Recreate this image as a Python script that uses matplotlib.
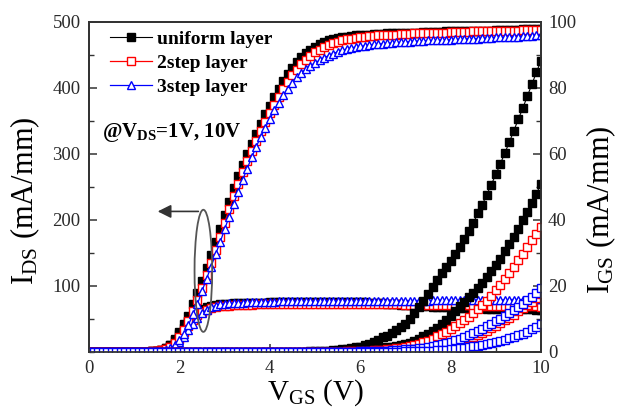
import numpy as np
import matplotlib
matplotlib.use("Agg")
import matplotlib.pyplot as plt
from matplotlib.patches import Ellipse
from matplotlib.lines import Line2D
from matplotlib.ticker import MultipleLocator

plt.rcParams['font.family'] = ['Liberation Serif', 'DejaVu Serif']
plt.rcParams['mathtext.fontset'] = 'custom'
plt.rcParams['mathtext.rm'] = 'Liberation Serif'
plt.rcParams['mathtext.it'] = 'Liberation Serif:italic'
plt.rcParams['mathtext.bf'] = 'Liberation Serif:bold'

# ---------------- data ----------------
vgs = np.round(np.arange(101) * 0.1, 1)  # V_GS grid, 0.1 V steps

series_names = ["uniform layer", "2step layer", "3step layer"]

ids10_uniform = [
    0, 0, 0, 0, 0, 0, 0, 0, 0, 0,
    0, 0, 0, 0.5, 1, 2, 3, 6, 10, 19,
    30, 42, 55, 72, 90, 108, 127, 147, 167, 187,
    207, 228, 248, 266, 283, 300, 315, 331, 346, 360,
    373, 386, 398, 410, 421, 431, 440, 447, 453, 458,
    462, 466, 469, 472, 474, 476, 477, 478, 479, 480,
    480, 481, 481, 482, 482, 482, 483, 483, 483, 483,
    484, 484, 484, 484, 485, 485, 485, 485, 485, 486,
    486, 486, 486, 486, 487, 487, 487, 487, 487, 487,
    488, 488, 488, 488, 488, 488, 489, 489, 489, 489, 489]

ids10_2step = [
    0, 0, 0, 0, 0, 0, 0, 0, 0, 0,
    0, 0, 0, 0.3, 0.8, 1.5, 2.5, 4, 8, 14,
    23, 34, 47, 62, 79, 97, 116, 135, 155, 175,
    196, 216, 236, 255, 273, 289, 305, 320, 335, 349,
    362, 375, 387, 398, 409, 419, 428, 436, 443, 449,
    454, 458, 462, 465, 468, 470, 472, 474, 475, 476,
    477, 478, 479, 479, 480, 480, 481, 481, 481, 482,
    482, 482, 483, 483, 483, 483, 484, 484, 484, 484,
    485, 485, 485, 485, 485, 486, 486, 486, 486, 486,
    487, 487, 487, 487, 487, 487, 488, 488, 488, 488, 488]

ids10_3step = [
    0, 0, 0, 0, 0, 0, 0, 0, 0, 0,
    0, 0, 0, 0, 0.5, 1, 2, 3, 6, 11,
    18, 27, 41, 57, 73, 92, 111, 129, 148, 166,
    186, 205, 224, 243, 261, 278, 295, 311, 326, 340,
    353, 366, 378, 389, 399, 408, 416, 423, 429, 434,
    438, 442, 446, 449, 452, 455, 457, 459, 461, 462,
    463, 464, 465, 466, 467, 467, 468, 468, 469, 469,
    470, 470, 471, 471, 471, 472, 472, 472, 473, 473,
    473, 474, 474, 474, 475, 475, 475, 476, 476, 476,
    477, 477, 477, 478, 478, 478, 479, 479, 479, 480, 480]

ids1_uniform = [
    0, 0, 0, 0, 0, 0, 0, 0, 0, 0,
    0, 0, 0, 0.5, 1, 2, 3, 6, 10, 18,
    27, 37, 47, 55, 61, 65, 68, 70, 71, 72,
    72.5, 73, 73.5, 74, 74, 74.5, 74.5, 75, 75, 75,
    75.5, 75.5, 75.5, 76, 76, 76, 76, 76, 76, 76,
    76, 76, 76, 76, 76, 76, 76, 76, 75.8, 75.7,
    75.5, 75.3, 75, 74.7, 74.3, 73.9, 73.4, 72.9, 72.4, 71.9,
    71.4, 70.9, 70.4, 70, 69.6, 69.2, 68.8, 68.5, 68.2, 67.9,
    67.6, 67.3, 67, 66.8, 66.6, 66.4, 66.2, 66, 65.8, 65.6,
    65.4, 65.2, 65, 64.9, 64.8, 64.7, 64.6, 64.5, 64.4, 64.3, 64.2]

ids1_2step = [
    0, 0, 0, 0, 0, 0, 0, 0, 0, 0,
    0, 0, 0, 0.3, 0.8, 1.5, 2.5, 4, 7, 12,
    20, 30, 40, 49, 56, 61, 64, 66, 68, 69,
    69.5, 70, 70.5, 71, 71, 71.5, 71.5, 72, 72, 72,
    72, 72.5, 72.5, 72.5, 72.5, 72.5, 72.5, 72.5, 72.5, 72.5,
    72.5, 72.5, 72.5, 72.5, 72.5, 72.5, 72.5, 72.5, 72.5, 72.5,
    72.5, 72.5, 72.5, 72.5, 72.5, 72.4, 72.3, 72.2, 72.1, 72,
    71.9, 71.8, 71.7, 71.6, 71.5, 71.4, 71.3, 71.2, 71.1, 71,
    70.9, 70.8, 70.7, 70.6, 70.5, 70.4, 70.3, 70.2, 70.1, 70,
    69.9, 69.8, 69.7, 69.6, 69.5, 69.4, 69.3, 69.2, 69.1, 69, 68.9]

ids1_3step = [
    0, 0, 0, 0, 0, 0, 0, 0, 0, 0,
    0, 0, 0, 0, 0.5, 1, 2, 3, 5, 9,
    15, 23, 33, 43, 52, 59, 64, 68, 70, 72,
    73, 73.5, 74, 74.5, 75, 75.5, 75.5, 76, 76, 76.5,
    76.5, 76.5, 77, 77, 77, 77, 77, 77.5, 77.5, 77.5,
    77.5, 77.5, 77.5, 77.5, 77.5, 77.5, 77.5, 77.5, 77.5, 77.5,
    78, 78, 78, 78, 78, 78, 78, 78, 78, 78,
    78, 78, 78, 78, 78, 78, 78.5, 78.5, 78.5, 78.5,
    78.5, 78.5, 78.5, 78.5, 78.5, 78.5, 79, 79, 79, 79,
    79, 79, 79, 79.5, 79.5, 79.5, 79.5, 79.5, 80, 80, 80]

igs_uniform_a = [
    0, 0, 0, 0, 0, 0, 0, 0, 0, 0,
    0, 0, 0, 0, 0, 0, 0, 0, 0, 0,
    0, 0, 0, 0, 0, 0, 0, 0, 0, 0,
    0, 0, 0, 0, 0, 0, 0, 0, 0, 0,
    0, 0, 0, 0, 0, 0.05, 0.1, 0.1, 0.15, 0.2,
    0.25, 0.3, 0.35, 0.45, 0.55, 0.7, 0.85, 1.0, 1.2, 1.4,
    1.6, 2.0, 2.5, 3.0, 3.7, 4.4, 5.0, 5.8, 6.6, 7.5,
    8.6, 10.0, 11.7, 13.6, 15.6, 17.7, 19.7, 21.8, 23.9, 25.8,
    27.7, 29.6, 31.9, 34.2, 36.6, 39.0, 42.0, 44.6, 47.7, 50.7,
    53.8, 57.0, 60.3, 63.6, 67.1, 70.6, 74.0, 77.6, 81.2, 84.8, 88.3]

igs_uniform_b = [
    0, 0, 0, 0, 0, 0, 0, 0, 0, 0,
    0, 0, 0, 0, 0, 0, 0, 0, 0, 0,
    0, 0, 0, 0, 0, 0, 0, 0, 0, 0,
    0, 0, 0, 0, 0, 0, 0, 0, 0, 0,
    0, 0, 0, 0, 0, 0, 0, 0.05, 0.05, 0.1,
    0.1, 0.1, 0.15, 0.15, 0.2, 0.2, 0.25, 0.3, 0.35, 0.4,
    0.5, 0.6, 0.7, 0.85, 1.0, 1.2, 1.4, 1.6, 1.8, 2.1,
    2.4, 2.8, 3.3, 4.0, 4.7, 5.5, 6.4, 7.4, 8.5, 9.7,
    10.9, 12.3, 13.8, 15.2, 16.6, 18.0, 19.5, 21.0, 22.7, 24.4,
    26.3, 28.3, 30.5, 32.7, 35.0, 37.4, 39.9, 42.5, 45.2, 48.0, 51.0]

igs_2step_a = [
    0, 0, 0, 0, 0, 0, 0, 0, 0, 0,
    0, 0, 0, 0, 0, 0, 0, 0, 0, 0,
    0, 0, 0, 0, 0, 0, 0, 0, 0, 0,
    0, 0, 0, 0, 0, 0, 0, 0, 0, 0,
    0, 0, 0, 0, 0, 0, 0, 0, 0, 0,
    0.05, 0.05, 0.1, 0.1, 0.1, 0.15, 0.15, 0.2, 0.2, 0.25,
    0.3, 0.35, 0.4, 0.5, 0.6, 0.7, 0.8, 0.95, 1.1, 1.3,
    1.5, 1.8, 2.1, 2.5, 2.9, 3.4, 4.0, 4.7, 5.4, 6.2,
    7.0, 7.8, 8.7, 9.6, 10.6, 11.7, 12.9, 14.2, 15.6, 17.1,
    18.7, 20.4, 22.2, 24.0, 25.9, 27.8, 29.8, 31.8, 33.8, 35.9, 38.0]

igs_2step_b = [
    0, 0, 0, 0, 0, 0, 0, 0, 0, 0,
    0, 0, 0, 0, 0, 0, 0, 0, 0, 0,
    0, 0, 0, 0, 0, 0, 0, 0, 0, 0,
    0, 0, 0, 0, 0, 0, 0, 0, 0, 0,
    0, 0, 0, 0, 0, 0, 0, 0, 0, 0,
    0, 0, 0, 0, 0, 0.05, 0.05, 0.05, 0.05, 0.05,
    0.1, 0.1, 0.15, 0.2, 0.2, 0.25, 0.3, 0.35, 0.4, 0.5,
    0.6, 0.7, 0.8, 0.9, 1.0, 1.2, 1.4, 1.6, 1.8, 2.1,
    2.4, 2.8, 3.2, 3.6, 4.1, 4.6, 5.2, 5.8, 6.5, 7.2,
    8.0, 8.8, 9.6, 10.4, 11.3, 12.3, 13.3, 14.3, 15.3, 16.4, 17.5]

igs_3step_a = [
    0, 0, 0, 0, 0, 0, 0, 0, 0, 0,
    0, 0, 0, 0, 0, 0, 0, 0, 0, 0,
    0, 0, 0, 0, 0, 0, 0, 0, 0, 0,
    0, 0, 0, 0, 0, 0, 0, 0, 0, 0,
    0, 0, 0, 0, 0, 0, 0, 0, 0, 0,
    0, 0, 0, 0, 0, 0.05, 0.05, 0.1, 0.1, 0.15,
    0.2, 0.2, 0.25, 0.3, 0.35, 0.4, 0.45, 0.5, 0.6, 0.7,
    0.8, 0.9, 1.0, 1.15, 1.3, 1.5, 1.7, 2.0, 2.3, 2.7,
    3.1, 3.5, 4.0, 4.5, 5.1, 5.7, 6.4, 7.1, 7.8, 8.5,
    9.3, 10.1, 10.9, 11.8, 12.7, 13.6, 14.6, 15.7, 16.8, 18.0, 19.3]

igs_3step_b = [
    0, 0, 0, 0, 0, 0, 0, 0, 0, 0,
    0, 0, 0, 0, 0, 0, 0, 0, 0, 0,
    0, 0, 0, 0, 0, 0, 0, 0, 0, 0,
    0, 0, 0, 0, 0, 0, 0, 0, 0, 0,
    0, 0, 0, 0, 0, 0, 0, 0, 0, 0,
    0, 0, 0, 0, 0, 0, 0, 0, 0, 0,
    0, 0, 0, 0, 0, 0.1, 0.1, 0.1, 0.1, 0.1,
    0.2, 0.2, 0.25, 0.3, 0.3, 0.4, 0.45, 0.5, 0.6, 0.7,
    0.9, 1.0, 1.2, 1.3, 1.5, 1.7, 1.9, 2.1, 2.4, 2.7,
    3.0, 3.3, 3.7, 4.1, 4.6, 5.1, 5.6, 6.2, 6.9, 7.7, 8.5]

x_ticks = [0, 2, 4, 6, 8, 10]
ids_ticks = [100, 200, 300, 400, 500]
igs_ticks = [0, 20, 40, 60, 80, 100]

# ---------------- styles ----------------
ms = 5.2
mew = 1.0
st_uni = dict(color='black', marker='s', ms=ms, mfc='black', mec='black', mew=mew, lw=0.8)
st_2s = dict(color='#ff0000', marker='s', ms=ms, mfc='white', mec='#ff0000', mew=mew, lw=0.9)
st_3s = dict(color='#0000ff', marker='^', ms=ms + 0.5, mfc='white', mec='#0000ff', mew=mew, lw=0.9)
st_3s_sq = dict(st_3s, marker='s', ms=ms)

fig = plt.figure(figsize=(6.32, 4.12), dpi=100)
ax = fig.add_axes([89 / 632, 1 - 352 / 412, (541 - 89) / 632, (352 - 22) / 412])
ax2 = ax.twinx()

# I_DS (left axis)
ax.plot(vgs, ids1_uniform, **st_uni)
ax.plot(vgs, ids10_uniform, **st_uni)
ax.plot(vgs, ids1_2step, **st_2s)
ax.plot(vgs, ids10_2step, **st_2s)
ax.plot(vgs, ids1_3step, **st_3s)
ax.plot(vgs, ids10_3step, **st_3s)

# I_GS (right axis)
ax2.plot(vgs, igs_uniform_a, **st_uni)
ax2.plot(vgs, igs_uniform_b, **st_uni)
ax2.plot(vgs, igs_2step_a, **st_2s)
ax2.plot(vgs, igs_2step_b, **st_2s)
ax2.plot(vgs, igs_3step_a, **st_3s_sq)
ax2.plot(vgs, igs_3step_b, **st_3s_sq)

ax.set_xlim(0, 10)
ax.set_ylim(0, 500)
ax2.set_ylim(0, 100)

tick_color = '#2a2a2a'
for a in (ax, ax2):
    for s in a.spines.values():
        s.set_color('#333333')
        s.set_linewidth(1.3)

ax.set_xticks(x_ticks)
ax.xaxis.set_minor_locator(MultipleLocator(1))
ax.set_yticks(ids_ticks)
ax.yaxis.set_minor_locator(MultipleLocator(50))
ax2.set_yticks(igs_ticks)
ax2.yaxis.set_minor_locator(MultipleLocator(10))

ax.tick_params(axis='both', which='major', direction='in', length=6, width=1.1,
               labelsize=13.5, labelcolor=tick_color, color='#333333', pad=6)
ax.tick_params(axis='both', which='minor', direction='in', length=3.5, width=1.0, color='#333333')
ax.tick_params(top=False, right=False, which='both')
ax2.tick_params(axis='y', which='major', direction='in', length=6, width=1.1,
                labelsize=13.5, labelcolor=tick_color, color='#333333', pad=5)
ax2.tick_params(axis='y', which='minor', direction='in', length=3.5, width=1.0, color='#333333')

ax.set_xlabel(r'V$_{\mathrm{GS}}$ (V)', fontsize=21)
ax.set_ylabel(r'I$_{\mathrm{DS}}$ (mA/mm)', fontsize=22)
ax2.set_ylabel(r'I$_{\mathrm{GS}}$ (mA/mm)', fontsize=22)
ax.xaxis.set_label_coords(0.5, -0.078)
ax.yaxis.set_label_coords(-0.105, 0.46)
ax2.yaxis.set_label_coords(1.097, 0.43)

# legend
handles = [Line2D([], [], **st_uni), Line2D([], [], **st_2s), Line2D([], [], **st_3s)]
leg = ax.legend(handles, series_names, loc='upper left', bbox_to_anchor=(0.046, 0.975),
                frameon=False, borderpad=0, borderaxespad=0, handlelength=2.15,
                handletextpad=0.3, labelspacing=0.32,
                prop={'family': 'Liberation Serif', 'weight': 'bold', 'size': 14})

ax.text(0.029, 0.652, r'@V$_{\mathbf{DS}}$=1V, 10V', transform=ax.transAxes,
        fontsize=15, fontweight='bold', va='baseline', ha='left')

# ellipse + arrow pointing to the left axis
ax.add_patch(Ellipse((2.53, 123), 0.39, 185, fill=False, ec='#555555', lw=1.3, zorder=5))
ax.annotate('', xy=(1.52, 213), xytext=(2.42, 213),
            arrowprops=dict(arrowstyle='-|>', color='#333333', lw=1.2,
                            mutation_scale=20, shrinkA=0, shrinkB=0), zorder=6)

fig.savefig('out.png', dpi=100)
